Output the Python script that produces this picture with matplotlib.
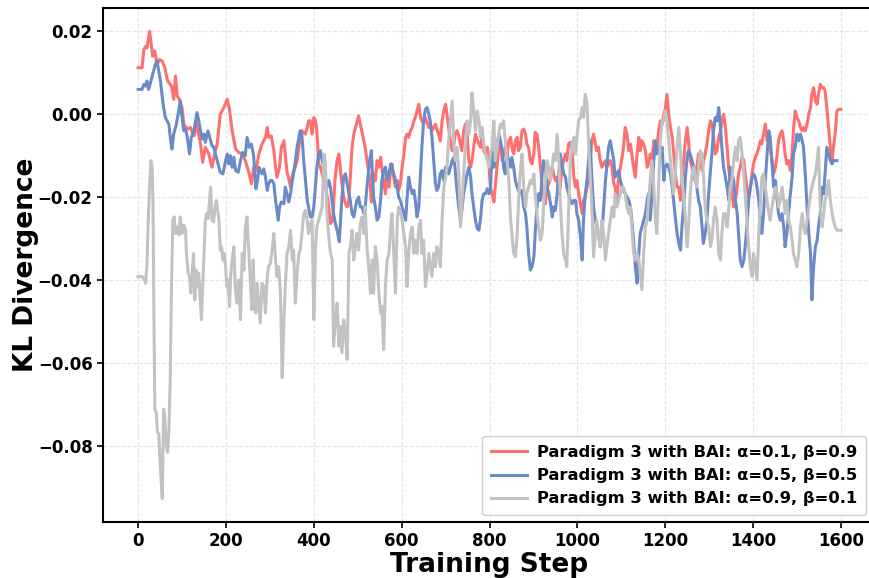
import numpy as np
import matplotlib
matplotlib.use("Agg")
import matplotlib.pyplot as plt

# ---------------- data (KL values in units of 1e-3) ----------------
red_steps = [0, 9, 13, 17, 20, 26, 30, 33, 38, 43, 49, 55, 61, 66, 70, 76, 81, 85, 89, 94,
             100, 104, 112, 119, 127, 134, 142, 147, 153, 161, 168, 175, 180, 187, 195, 203, 208, 214, 222, 229,
             237, 244, 253, 258, 263, 268, 275, 282, 290, 294, 297, 303, 309, 312, 316, 322, 326, 332, 335, 339,
             343, 347, 350, 354, 358, 362, 366, 369, 373, 377, 381, 385, 388, 392, 396, 400, 404, 407, 411, 415,
             419, 423, 428, 432, 438, 443, 448, 453, 457, 460, 464, 468, 472, 476, 480, 483, 487, 491, 495, 498,
             502, 506, 510, 514, 517, 521, 527, 531, 536, 540, 544, 548, 552, 555, 559, 563, 567, 571, 575, 578,
             582, 586, 590, 593, 597, 601, 605, 609, 612, 616, 620, 624, 628, 631, 635, 639, 643, 646, 650, 654,
             658, 662, 665, 669, 673, 677, 680, 684, 688, 692, 696, 700, 703, 707, 711, 715, 719, 722, 726, 730,
             734, 737, 741, 745, 749, 753, 757, 760, 764, 768, 772, 776, 780, 783, 787, 791, 795, 799, 802, 806,
             810, 813, 817, 821, 825, 829, 832, 836, 840, 844, 848, 851, 855, 859, 863, 866, 870, 874, 878, 882,
             885, 889, 893, 897, 901, 904, 908, 912, 916, 920, 923, 927, 931, 935, 939, 943, 946, 950, 954, 958,
             961, 965, 969, 973, 976, 980, 984, 988, 992, 996, 999, 1003, 1007, 1011, 1014, 1018, 1022, 1026, 1029, 1033,
             1037, 1041, 1044, 1048, 1052, 1056, 1060, 1064, 1067, 1071, 1075, 1079, 1083, 1086, 1090, 1094, 1098, 1102, 1105, 1109,
             1113, 1117, 1121, 1124, 1128, 1132, 1136, 1140, 1143, 1147, 1151, 1155, 1159, 1162, 1166, 1170, 1174, 1178, 1181, 1185,
             1189, 1193, 1197, 1200, 1204, 1208, 1212, 1216, 1219, 1223, 1227, 1231, 1235, 1238, 1242, 1246, 1250, 1253, 1257, 1261,
             1265, 1268, 1272, 1276, 1280, 1284, 1287, 1291, 1295, 1299, 1303, 1307, 1310, 1314, 1318, 1322, 1326, 1329, 1333, 1337,
             1341, 1345, 1348, 1352, 1356, 1360, 1364, 1367, 1371, 1375, 1379, 1382, 1386, 1390, 1394, 1398, 1401, 1405, 1409, 1413,
             1417, 1420, 1424, 1428, 1432, 1436, 1439, 1443, 1447, 1451, 1455, 1458, 1462, 1466, 1470, 1473, 1477, 1481, 1485, 1489,
             1492, 1496, 1500, 1504, 1508, 1512, 1515, 1519, 1523, 1527, 1531, 1534, 1538, 1542, 1546, 1549, 1553, 1557, 1561, 1564,
             1568, 1572, 1576, 1580, 1583, 1587, 1591, 1595, 1600]
red_kl = [11.2, 11.2, 15.6, 16.4, 16.0, 20.0, 16.8, 14.0, 15.2, 12.0, 13.2, 12.8, 11.2, 8.4, 7.6, 6.8, 3.6, 9.2, 4.4, 3.6,
          1.6, -2.4, -3.6, -3.2, -5.2, -2.4, -7.2, -11.6, -8.0, -9.6, -12.8, -9.2, -7.2, 0.0, 1.6, 3.6, 1.2, -4.0, -8.4, -9.2,
          -9.6, -11.2, -14.4, -16.8, -12.8, -13.6, -9.6, -7.2, -5.6, -3.2, -5.6, -5.2, -8.8, -12.0, -15.2, -12.8, -8.0, -6.4, -9.6, -14.0,
          -15.6, -17.6, -15.2, -13.6, -12.8, -11.2, -8.0, -5.6, -4.0, -4.4, -4.8, -3.2, -1.6, -1.6, -4.8, -0.8, -1.6, -4.0, -12.0, -12.8,
          -14.4, -16.0, -18.4, -20.8, -26.4, -25.6, -16.0, -11.2, -9.6, -12.8, -16.8, -20.0, -21.6, -22.4, -20.8, -15.2, -8.0, -4.8, -3.2, -2.0,
          -0.4, -2.4, -4.4, -6.4, -8.0, -11.2, -15.2, -21.2, -14.4, -16.0, -11.2, -12.8, -10.4, -12.8, -16.0, -19.2, -15.2, -17.6, -13.6, -12.0,
          -15.2, -17.6, -16.0, -18.4, -16.8, -12.8, -9.6, -5.6, -4.8, -5.6, -4.0, -3.2, -1.6, -0.8, 0.8, 2.4, -0.8, -1.6, -2.4, -0.8,
          -2.0, -3.2, -2.4, -4.0, -3.2, -2.4, -3.6, -4.8, -6.4, -1.6, 0.8, 2.4, 0.0, -3.2, -6.4, -8.8, -7.2, -4.8, -4.0, -5.2,
          -7.2, -8.8, -4.0, -2.4, -4.8, -11.2, -12.8, -11.2, -8.0, -4.8, -6.0, -7.2, -8.0, -4.8, -8.8, -9.6, -8.0, -12.8, -17.6, -19.2,
          -21.2, -17.6, -12.8, -8.0, -7.2, -11.2, -9.6, -8.0, -9.6, -6.4, -5.6, -8.0, -9.6, -6.4, -5.6, -8.8, -8.0, -4.0, -3.6, -4.8,
          -7.2, -8.0, -11.2, -12.0, -9.6, -4.4, -4.8, -8.0, -12.8, -17.6, -19.2, -21.6, -17.6, -16.8, -15.2, -12.8, -14.4, -16.0, -15.2, -19.2,
          -17.6, -12.8, -11.2, -9.6, -11.2, -7.2, -6.8, -8.8, -15.2, -17.6, -16.0, -19.2, -21.6, -24.0, -20.8, -20.0, -17.6, -16.0, -11.2, -6.4,
          -4.8, -7.2, -8.8, -8.0, -11.2, -12.8, -12.0, -11.2, -12.8, -12.0, -11.2, -12.8, -16.8, -17.6, -20.8, -15.2, -12.8, -10.4, -8.0, -3.2,
          -4.8, -8.8, -7.2, -9.6, -12.8, -15.2, -9.6, -5.6, -8.8, -6.4, -7.2, -8.8, -12.8, -12.0, -9.6, -11.2, -6.4, -8.0, -8.8, -4.0,
          -1.6, -2.4, 0.0, 1.2, 4.8, 0.0, -3.2, -5.6, -8.8, -14.4, -17.6, -17.6, -20.8, -16.0, -11.2, -6.4, -3.2, -6.4, -11.2, -12.8,
          -14.4, -16.0, -12.8, -9.6, -11.2, -13.6, -11.2, -9.6, -7.2, -4.0, -1.6, -2.4, -5.6, -9.6, -8.8, -5.6, -4.0, -1.6, 0.0, -3.2,
          -8.0, -13.6, -16.0, -19.2, -22.4, -20.8, -17.6, -14.4, -12.8, -10.4, -11.2, -14.4, -17.6, -20.0, -17.6, -14.4, -12.0, -10.4, -9.6, -8.0,
          -6.4, -7.2, -4.8, -2.4, -6.4, -6.4, -8.0, -11.2, -14.4, -12.8, -9.6, -6.4, -4.8, -4.0, -6.4, -9.6, -12.0, -11.2, -13.6, -9.6,
          -4.0, 0.8, -0.8, -1.6, -3.2, -4.0, -3.2, -4.0, -2.4, 0.0, 1.6, 4.8, 6.4, 3.2, 2.4, 4.8, 7.2, 6.4, 6.4, 5.6,
          1.6, -3.2, -8.0, -11.2, -8.0, -4.8, 0.8, 1.2, 1.2]

blue_steps = [0, 9, 13, 17, 20, 24, 28, 33, 39, 43, 47, 51, 55, 58, 62, 66, 70, 74, 77, 81,
              87, 93, 96, 100, 104, 108, 112, 117, 121, 127, 134, 138, 142, 146, 150, 153, 159, 165, 168, 172,
              176, 182, 187, 193, 199, 203, 206, 210, 214, 218, 222, 228, 233, 238, 244, 248, 253, 258, 263, 268,
              272, 275, 278, 282, 286, 290, 294, 297, 301, 305, 309, 312, 316, 319, 322, 326, 332, 335, 339, 343,
              347, 351, 354, 358, 362, 366, 369, 373, 377, 381, 385, 388, 392, 396, 400, 404, 407, 411, 415, 419,
              423, 426, 430, 434, 438, 442, 445, 449, 453, 458, 460, 464, 468, 472, 476, 480, 483, 487, 491, 495,
              498, 502, 506, 510, 514, 517, 521, 527, 531, 536, 540, 544, 548, 552, 555, 559, 563, 567, 571, 575,
              578, 582, 586, 590, 593, 597, 601, 605, 609, 612, 616, 620, 624, 628, 631, 635, 639, 643, 646, 650,
              654, 658, 662, 665, 669, 673, 677, 680, 684, 688, 692, 696, 700, 703, 707, 711, 715, 719, 722, 726,
              730, 734, 737, 741, 745, 749, 753, 757, 760, 764, 768, 772, 776, 780, 783, 787, 791, 795, 799, 802,
              806, 810, 813, 817, 821, 825, 829, 832, 836, 840, 844, 848, 851, 855, 859, 863, 866, 870, 874, 878,
              882, 885, 889, 893, 897, 901, 904, 908, 912, 916, 920, 923, 927, 931, 935, 939, 943, 946, 950, 954,
              958, 961, 965, 969, 973, 976, 980, 984, 988, 992, 996, 999, 1003, 1007, 1011, 1014, 1018, 1022, 1026, 1029,
              1033, 1037, 1041, 1044, 1048, 1052, 1056, 1060, 1064, 1067, 1071, 1075, 1079, 1083, 1086, 1090, 1094, 1098, 1102, 1105,
              1109, 1113, 1117, 1121, 1124, 1128, 1132, 1136, 1140, 1143, 1147, 1151, 1155, 1159, 1162, 1166, 1170, 1174, 1178, 1181,
              1185, 1189, 1193, 1197, 1200, 1204, 1208, 1212, 1216, 1219, 1223, 1227, 1231, 1235, 1238, 1242, 1246, 1250, 1253, 1257,
              1261, 1265, 1268, 1272, 1276, 1280, 1284, 1287, 1291, 1295, 1299, 1303, 1307, 1310, 1314, 1318, 1322, 1326, 1329, 1333,
              1337, 1341, 1345, 1348, 1352, 1356, 1360, 1364, 1367, 1371, 1375, 1379, 1382, 1386, 1390, 1394, 1398, 1401, 1405, 1409,
              1413, 1417, 1420, 1424, 1428, 1432, 1436, 1439, 1443, 1447, 1451, 1455, 1458, 1462, 1466, 1470, 1473, 1477, 1481, 1485,
              1489, 1492, 1496, 1500, 1504, 1508, 1512, 1515, 1519, 1523, 1527, 1531, 1534, 1538, 1542, 1546, 1549, 1553, 1557, 1561,
              1564, 1568, 1572, 1576, 1580, 1583, 1587, 1591]
blue_kl = [6.0, 6.0, 7.2, 6.8, 8.0, 6.0, 7.6, 9.6, 12.0, 12.8, 10.4, 8.0, 4.0, 1.6, -0.8, -1.6, -2.4, -6.4, -8.4, -4.8,
           -2.4, 1.2, 3.2, -0.8, -4.0, -3.6, -5.6, -9.6, -5.6, -4.0, 0.4, -1.6, -4.0, -6.0, -4.8, -6.8, -4.0, -6.4, -7.6, -8.0,
           -9.6, -12.0, -14.0, -14.4, -11.2, -9.6, -12.0, -10.0, -12.8, -10.4, -13.6, -14.0, -11.2, -9.2, -10.0, -5.6, -8.0, -7.2, -10.0, -18.0,
           -16.0, -12.8, -13.6, -14.4, -13.2, -15.2, -18.4, -16.8, -16.0, -16.0, -16.8, -20.0, -23.2, -25.6, -22.4, -21.2, -21.6, -17.6, -19.2, -21.2,
           -19.2, -16.0, -14.4, -11.2, -8.0, -5.6, -4.0, -5.2, -11.2, -16.0, -20.8, -22.4, -24.8, -24.8, -22.4, -16.8, -12.8, -9.6, -8.8, -11.2,
           -12.8, -16.8, -17.6, -16.0, -17.6, -21.6, -24.0, -26.4, -28.0, -30.8, -27.2, -20.0, -15.2, -14.4, -16.8, -19.2, -20.8, -24.0, -24.8, -22.4,
           -20.8, -20.0, -22.4, -22.4, -24.0, -22.4, -17.6, -11.2, -8.8, -20.0, -22.4, -25.6, -24.8, -20.8, -16.0, -13.6, -12.8, -16.0, -14.4, -12.0,
           -12.8, -14.4, -16.0, -17.6, -20.0, -20.8, -22.4, -24.0, -25.6, -20.8, -15.2, -17.6, -19.2, -18.4, -20.8, -24.8, -22.4, -14.4, -8.0, -1.6,
           1.2, 1.6, 0.0, -1.6, -5.6, -11.2, -16.8, -18.4, -17.6, -14.4, -13.6, -16.0, -12.8, -12.8, -14.4, -12.8, -11.2, -10.4, -13.6, -18.4,
           -22.4, -25.6, -23.2, -19.2, -16.8, -14.4, -12.8, -15.2, -19.2, -22.4, -25.6, -27.6, -28.0, -24.8, -20.8, -19.2, -19.2, -18.0, -19.2, -18.4,
           -8.8, -12.8, -11.2, -8.0, -4.8, -6.4, -8.8, -12.8, -14.4, -9.6, -11.2, -12.8, -10.4, -12.8, -16.0, -17.6, -18.4, -19.2, -18.4, -22.4,
           -24.0, -27.2, -33.6, -37.6, -36.8, -34.4, -28.8, -22.4, -19.2, -20.8, -14.4, -11.2, -12.8, -17.6, -19.2, -21.6, -24.8, -22.4, -23.2, -19.2,
           -14.4, -9.6, -12.0, -14.4, -15.2, -17.6, -19.2, -20.8, -21.6, -20.8, -20.8, -24.0, -25.6, -29.6, -35.2, -25.6, -19.2, -16.0, -10.4, -6.4,
           -15.2, -22.4, -25.6, -27.2, -28.8, -32.0, -28.8, -22.4, -16.0, -12.8, -8.0, -6.4, -8.8, -11.2, -15.2, -14.4, -13.6, -16.0, -17.6, -18.4,
           -19.2, -20.0, -20.8, -22.4, -25.6, -30.4, -36.8, -40.8, -33.6, -28.8, -27.2, -25.6, -24.0, -20.8, -19.2, -25.6, -19.2, -11.2, -6.4, -9.6,
           -8.0, -9.6, -8.0, -16.0, -12.8, -12.0, -12.8, -14.4, -17.6, -20.8, -24.8, -28.8, -31.2, -32.8, -27.2, -22.4, -15.2, -10.4, -8.8, -9.6,
           -11.2, -12.8, -15.2, -17.6, -20.8, -22.4, -27.2, -31.2, -28.8, -25.6, -19.2, -13.6, -8.8, -4.0, -0.8, -1.6, 1.6, -3.2, -8.0, -12.8,
           -15.2, -17.6, -20.8, -12.8, -14.4, -16.0, -20.8, -24.0, -28.8, -35.2, -36.8, -35.2, -32.0, -27.2, -20.8, -17.6, -15.2, -14.4, -15.2, -17.6,
           -20.8, -25.6, -28.8, -24.0, -16.0, -9.6, -4.0, -5.6, -11.2, -17.6, -16.0, -20.8, -24.0, -25.6, -24.0, -27.2, -32.0, -28.8, -24.0, -19.2,
           -15.2, -9.6, -8.0, -4.8, -6.4, -4.8, -6.4, -8.0, -14.4, -22.4, -28.8, -33.6, -44.8, -36.8, -32.0, -30.4, -27.2, -24.0, -17.6, -19.2,
           -14.4, -8.0, -9.6, -11.2, -12.0, -11.2, -11.2, -11.2]

gray_steps = [0, 9, 13, 17, 20, 23, 26, 29, 32, 34, 36, 38, 41, 44, 47, 50, 53, 55, 58, 61,
              64, 67, 70, 73, 76, 79, 82, 85, 89, 93, 96, 100, 104, 108, 110, 114, 117, 120, 123, 126,
              129, 132, 135, 138, 141, 144, 147, 150, 153, 156, 159, 162, 165, 168, 172, 175, 178, 181, 184, 187,
              190, 193, 196, 199, 202, 205, 208, 211, 214, 218, 221, 225, 229, 233, 237, 241, 244, 248, 250, 253,
              256, 259, 262, 265, 268, 271, 275, 278, 282, 286, 290, 294, 297, 301, 305, 309, 312, 316, 320, 324,
              328, 332, 335, 339, 343, 347, 351, 354, 358, 362, 366, 369, 373, 377, 381, 385, 388, 392, 396, 400,
              404, 407, 411, 415, 419, 423, 426, 430, 434, 438, 442, 445, 449, 453, 457, 460, 464, 468, 472, 476,
              480, 483, 487, 491, 495, 498, 502, 506, 510, 514, 517, 521, 525, 529, 533, 536, 540, 544, 548, 552,
              555, 559, 563, 567, 571, 575, 578, 582, 586, 590, 593, 597, 601, 605, 609, 612, 616, 620, 624, 628,
              631, 635, 639, 643, 646, 650, 654, 658, 662, 665, 669, 673, 677, 680, 684, 688, 692, 696, 700, 703,
              707, 711, 715, 719, 722, 726, 730, 734, 737, 741, 745, 749, 753, 757, 760, 764, 768, 772, 776, 780,
              783, 787, 791, 795, 799, 802, 806, 810, 813, 817, 821, 825, 829, 832, 836, 840, 844, 848, 851, 855,
              859, 863, 866, 870, 874, 878, 882, 885, 889, 893, 897, 901, 904, 908, 912, 916, 920, 923, 927, 931,
              935, 939, 943, 946, 950, 954, 958, 961, 965, 969, 973, 976, 980, 984, 988, 992, 996, 999, 1003, 1007,
              1011, 1014, 1018, 1022, 1026, 1029, 1033, 1037, 1041, 1044, 1048, 1052, 1056, 1060, 1064, 1067, 1071, 1075, 1079, 1083,
              1086, 1090, 1094, 1098, 1102, 1105, 1109, 1113, 1117, 1121, 1124, 1128, 1132, 1136, 1140, 1143, 1147, 1151, 1155, 1159,
              1162, 1166, 1170, 1174, 1178, 1181, 1185, 1189, 1193, 1197, 1200, 1204, 1208, 1212, 1216, 1219, 1223, 1227, 1231, 1235,
              1238, 1242, 1246, 1250, 1253, 1257, 1261, 1265, 1268, 1272, 1276, 1280, 1284, 1287, 1291, 1295, 1299, 1303, 1307, 1310,
              1314, 1318, 1322, 1326, 1329, 1333, 1337, 1341, 1345, 1348, 1352, 1356, 1360, 1364, 1367, 1371, 1375, 1379, 1382, 1386,
              1390, 1394, 1398, 1401, 1405, 1409, 1413, 1417, 1420, 1424, 1428, 1432, 1436, 1439, 1443, 1447, 1451, 1455, 1458, 1462,
              1466, 1470, 1473, 1477, 1481, 1485, 1489, 1492, 1496, 1500, 1504, 1508, 1512, 1515, 1519, 1523, 1527, 1531, 1534, 1538,
              1542, 1546, 1549, 1553, 1557, 1561, 1564, 1568, 1572, 1576, 1580, 1583, 1587, 1591, 1595, 1600]
gray_kl = [-39.2, -39.2, -39.6, -40.8, -36.4, -25.6, -17.6, -11.2, -12.8, -22.4, -49.6, -71.2, -72.0, -76.8, -77.2, -84.0, -89.6, -92.8, -71.2, -73.6,
           -80.0, -81.6, -76.8, -64.0, -41.6, -25.6, -24.8, -28.8, -27.2, -29.2, -24.8, -28.8, -26.8, -28.0, -33.6, -38.4, -39.2, -43.2, -38.4, -33.6,
           -44.8, -37.6, -41.6, -38.4, -44.0, -49.6, -41.6, -33.6, -25.6, -24.0, -25.2, -21.6, -17.6, -25.6, -26.0, -22.4, -20.8, -23.2, -25.6, -32.8,
           -32.0, -35.2, -33.6, -36.8, -41.6, -40.0, -46.4, -38.4, -35.2, -32.0, -41.6, -45.6, -40.0, -49.6, -33.6, -37.6, -27.2, -24.8, -29.6, -35.2,
           -41.6, -47.2, -35.2, -46.4, -48.0, -40.8, -46.4, -50.4, -40.8, -41.6, -48.0, -39.2, -36.8, -36.0, -32.8, -28.8, -33.6, -39.2, -36.8, -43.2,
           -63.6, -49.6, -41.6, -33.6, -32.0, -28.0, -35.2, -32.8, -45.6, -38.4, -33.6, -32.8, -28.8, -24.0, -23.2, -25.6, -28.8, -26.4, -25.6, -49.6,
           -32.0, -27.2, -25.6, -24.0, -22.4, -9.6, -11.2, -24.0, -29.6, -33.6, -35.2, -56.0, -49.6, -45.6, -56.0, -51.2, -57.6, -49.6, -52.8, -59.2,
           -33.6, -32.0, -28.0, -35.2, -32.0, -28.8, -32.8, -26.4, -24.8, -28.8, -22.4, -32.0, -36.8, -43.2, -35.2, -43.2, -32.0, -35.2, -43.2, -48.0,
           -46.4, -56.8, -41.6, -35.2, -33.6, -27.2, -24.0, -33.6, -43.2, -25.6, -22.4, -23.2, -25.6, -28.8, -32.0, -41.6, -33.6, -28.8, -27.2, -33.6,
           -30.4, -33.6, -27.2, -25.6, -33.6, -30.4, -41.6, -38.4, -33.6, -36.0, -39.2, -33.6, -36.8, -32.0, -32.8, -36.8, -25.6, -17.6, -15.2, -12.8,
           -6.4, -1.6, 3.2, -8.0, -11.2, -8.0, -13.6, -27.2, -22.4, -14.4, -8.0, -1.6, -4.8, -1.6, 5.2, 0.8, -4.0, 0.8, -1.6, -5.6,
           -3.2, -7.2, -9.6, -11.2, -12.8, -9.6, -8.0, -1.6, -11.2, -8.0, -4.8, -2.4, -3.2, -1.6, -6.4, -11.2, -16.0, -25.6, -28.8, -33.6,
           -34.4, -28.8, -21.6, -13.6, -9.6, -17.6, -22.4, -19.2, -17.6, -16.0, -16.8, -14.4, -19.2, -24.0, -27.2, -30.4, -28.8, -22.4, -16.0, -11.2,
           -12.8, -16.0, -12.8, -9.6, -11.2, -4.8, -11.2, -20.8, -28.8, -33.6, -35.2, -36.8, -24.0, -11.2, -7.2, -5.6, -9.6, -5.6, -1.6, -0.8,
           1.6, -0.8, 4.8, 2.4, -8.0, -14.4, -22.4, -34.4, -28.8, -25.6, -28.8, -32.0, -25.6, -28.8, -35.2, -32.0, -28.8, -25.6, -22.4, -24.8,
           -19.2, -22.4, -20.8, -19.2, -17.6, -17.6, -19.2, -22.4, -24.0, -22.4, -27.2, -33.6, -35.2, -33.6, -35.2, -38.4, -42.4, -33.6, -27.2, -25.6,
           -20.8, -16.0, -11.2, -17.6, -25.6, -28.8, -17.6, -6.4, -1.6, -1.6, 0.8, -1.6, -6.4, -11.2, -16.0, -19.2, -14.4, -8.0, -3.2, -9.6,
           -16.0, -19.2, -25.6, -32.0, -27.2, -19.2, -14.4, -12.8, -15.2, -17.6, -12.8, -8.8, -9.6, -14.4, -22.4, -25.6, -27.2, -32.0, -29.6, -25.6,
           -22.4, -25.6, -33.6, -35.2, -28.8, -24.0, -24.0, -27.2, -22.4, -17.6, -16.0, -11.2, -8.0, -11.2, -6.4, -5.6, -9.6, -14.4, -19.2, -25.6,
           -32.0, -36.8, -39.2, -33.6, -36.8, -40.0, -28.8, -20.8, -15.2, -14.4, -17.6, -20.8, -24.0, -25.6, -22.4, -20.0, -17.6, -19.2, -22.4, -20.8,
           -17.6, -20.8, -24.0, -20.8, -25.6, -27.2, -30.4, -33.6, -35.2, -36.8, -33.6, -27.2, -24.0, -27.2, -28.8, -25.6, -22.4, -19.2, -17.6, -16.0,
           -14.4, -11.2, -8.0, -22.4, -27.2, -24.0, -20.8, -19.2, -16.0, -20.8, -24.0, -25.6, -27.2, -28.0, -28.0, -28.0]

labels = ["Paradigm 3 with BAI: \u03b1=0.1, \u03b2=0.9",
          "Paradigm 3 with BAI: \u03b1=0.5, \u03b2=0.5",
          "Paradigm 3 with BAI: \u03b1=0.9, \u03b2=0.1"]
x_ticks = [0, 200, 400, 600, 800, 1000, 1200, 1400, 1600]
y_ticks = [-0.08, -0.06, -0.04, -0.02, 0.00, 0.02]

# ---------------- plot ----------------
plt.rcParams['font.family'] = ['DejaVu Sans']
fig = plt.figure(figsize=(8.69, 5.78), dpi=100)
W, H = 869, 578
ax = fig.add_axes([103 / W, (H - 522) / H, (876 - 103) / W, (522 - 8) / H])

series = [(red_steps, red_kl, '#ff6f6f'), (blue_steps, blue_kl, '#6a8bc8'), (gray_steps, gray_kl, '#c2c2c2')]
for (st, kl, col), lab in zip(series, labels):
    ax.plot(st, np.array(kl) * 1e-3, color=col, lw=2.2, label=lab)

ax.set_xticks(x_ticks)
ax.set_yticks(y_ticks)
ax.set_yticklabels([f"{v:.2f}".replace('-', '\u2212') for v in y_ticks])
for lab in ax.get_xticklabels() + ax.get_yticklabels():
    lab.set_fontweight('bold')
    lab.set_fontsize(12)
ax.grid(True, linestyle='--', color='#cccccc', alpha=0.5, linewidth=0.8)
ax.set_xlabel("Training Step", fontsize=19, fontweight='bold', labelpad=1)
ax.set_ylabel("KL Divergence", fontsize=19, fontweight='bold', labelpad=-1)
for sp in ax.spines.values():
    sp.set_linewidth(1.5)
ax.spines['right'].set_visible(False)
ax.tick_params(width=1.2, length=4)

leg = ax.legend(loc='lower right', prop={'weight': 'bold', 'size': 11.8},
                frameon=True, framealpha=0.9, edgecolor='#cccccc', borderaxespad=0.4,
                borderpad=0.55, handlelength=2.2, handletextpad=0.6)
leg.set_bbox_to_anchor(((873 - 103) / 773, 0.0), transform=ax.transAxes)

fig.savefig("out.png", dpi=100)
